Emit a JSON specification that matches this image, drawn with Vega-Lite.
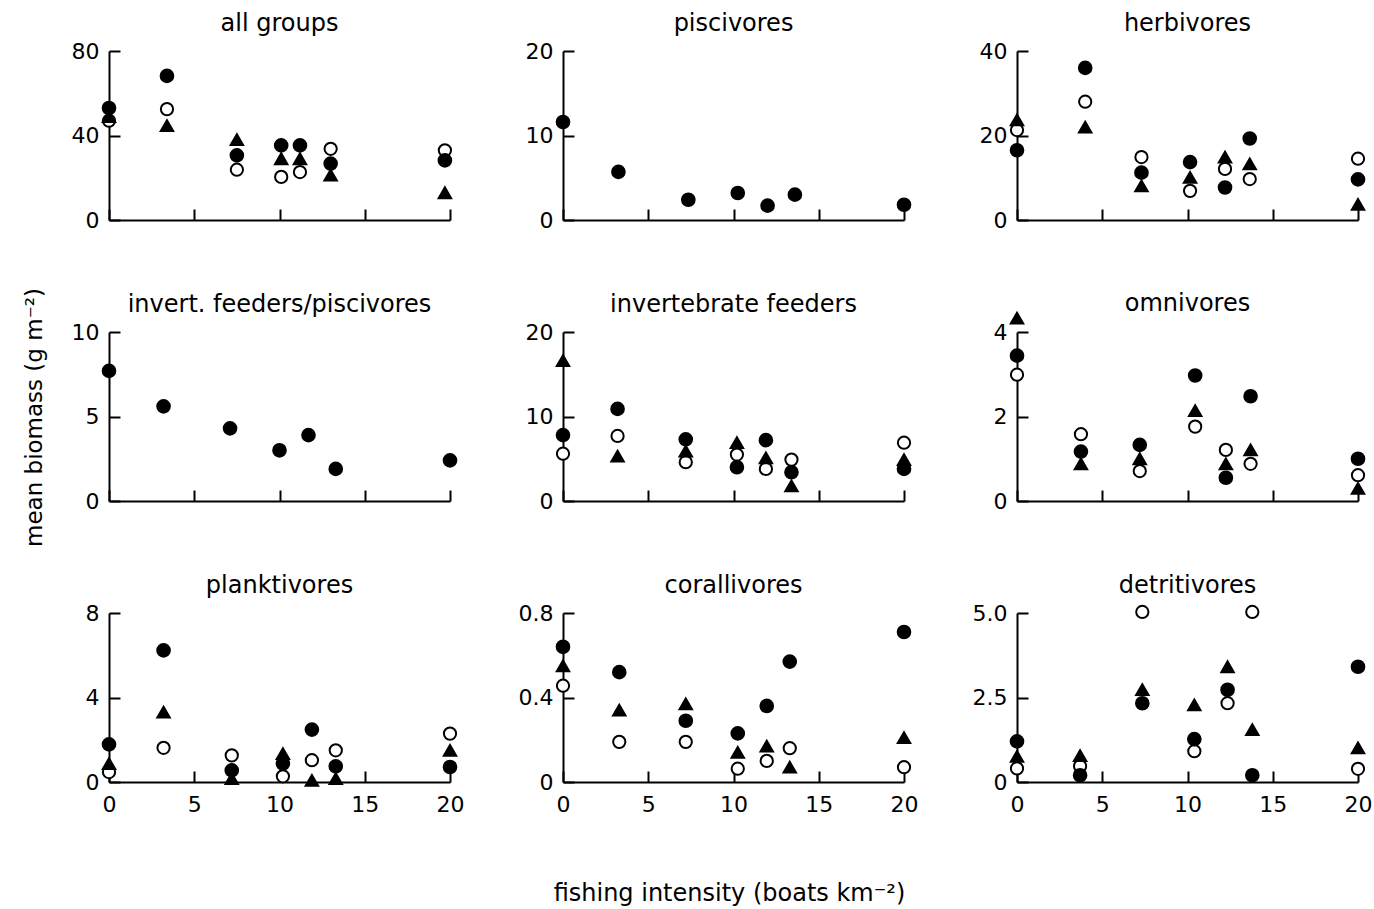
{
  "$schema": "https://vega.github.io/schema/vega-lite/v6.json",
  "background": "white",
  "padding": {"left": 22, "top": 12, "right": 0, "bottom": 5},
  "datasets": {
    "pts": [
      {"p":1,"s":"open","x":0,"y":47},{"p":1,"s":"open","x":3.4,"y":52.5},{"p":1,"s":"open","x":7.5,"y":23.8},{"p":1,"s":"open","x":10.1,"y":20.4},{"p":1,"s":"open","x":11.2,"y":22.7},{"p":1,"s":"open","x":13.0,"y":33.7},{"p":1,"s":"open","x":19.7,"y":33},
      {"p":1,"s":"tri","x":0,"y":49},{"p":1,"s":"tri","x":3.4,"y":44.7},{"p":1,"s":"tri","x":7.5,"y":38},{"p":1,"s":"tri","x":10.1,"y":29},{"p":1,"s":"tri","x":11.2,"y":29},{"p":1,"s":"tri","x":13.0,"y":21.2},{"p":1,"s":"tri","x":19.7,"y":12.9},
      {"p":1,"s":"filled","x":0,"y":53},{"p":1,"s":"filled","x":3.4,"y":68.2},{"p":1,"s":"filled","x":7.5,"y":30.6},{"p":1,"s":"filled","x":10.1,"y":35.3},{"p":1,"s":"filled","x":11.2,"y":35.3},{"p":1,"s":"filled","x":13.0,"y":26.7},{"p":1,"s":"filled","x":19.7,"y":28.2},
      {"p":2,"s":"filled","x":0,"y":11.6},{"p":2,"s":"filled","x":3.25,"y":5.7},{"p":2,"s":"filled","x":7.35,"y":2.4},{"p":2,"s":"filled","x":10.25,"y":3.2},{"p":2,"s":"filled","x":12.0,"y":1.7},{"p":2,"s":"filled","x":13.6,"y":3.0},{"p":2,"s":"filled","x":20,"y":1.8},
      {"p":3,"s":"open","x":0,"y":21.3},{"p":3,"s":"open","x":4.0,"y":28},{"p":3,"s":"open","x":7.3,"y":14.9},{"p":3,"s":"open","x":10.15,"y":6.9},{"p":3,"s":"open","x":12.2,"y":12.1},{"p":3,"s":"open","x":13.65,"y":9.7},{"p":3,"s":"open","x":20,"y":14.5},
      {"p":3,"s":"tri","x":0,"y":23.7},{"p":3,"s":"tri","x":4.0,"y":22},{"p":3,"s":"tri","x":7.3,"y":8.1},{"p":3,"s":"tri","x":10.15,"y":10.1},{"p":3,"s":"tri","x":12.2,"y":14.9},{"p":3,"s":"tri","x":13.65,"y":13.3},{"p":3,"s":"tri","x":20,"y":3.7},
      {"p":3,"s":"filled","x":0,"y":16.5},{"p":3,"s":"filled","x":4.0,"y":36},{"p":3,"s":"filled","x":7.3,"y":11.2},{"p":3,"s":"filled","x":10.15,"y":13.7},{"p":3,"s":"filled","x":12.2,"y":7.7},{"p":3,"s":"filled","x":13.65,"y":19.3},{"p":3,"s":"filled","x":20,"y":9.6},
      {"p":4,"s":"filled","x":0,"y":7.7},{"p":4,"s":"filled","x":3.2,"y":5.6},{"p":4,"s":"filled","x":7.1,"y":4.3},{"p":4,"s":"filled","x":10.0,"y":3.0},{"p":4,"s":"filled","x":11.7,"y":3.9},{"p":4,"s":"filled","x":13.3,"y":1.9},{"p":4,"s":"filled","x":20,"y":2.4},
      {"p":5,"s":"open","x":0,"y":5.6},{"p":5,"s":"open","x":3.2,"y":7.7},{"p":5,"s":"open","x":7.2,"y":4.6},{"p":5,"s":"open","x":10.2,"y":5.5},{"p":5,"s":"open","x":11.9,"y":3.8},{"p":5,"s":"open","x":13.4,"y":4.9},{"p":5,"s":"open","x":20,"y":6.9},
      {"p":5,"s":"tri","x":0,"y":16.6},{"p":5,"s":"tri","x":3.2,"y":5.3},{"p":5,"s":"tri","x":7.2,"y":5.9},{"p":5,"s":"tri","x":10.2,"y":6.9},{"p":5,"s":"tri","x":11.9,"y":5.1},{"p":5,"s":"tri","x":13.4,"y":1.8},{"p":5,"s":"tri","x":20,"y":4.9},
      {"p":5,"s":"filled","x":0,"y":7.8},{"p":5,"s":"filled","x":3.2,"y":10.9},{"p":5,"s":"filled","x":7.2,"y":7.3},{"p":5,"s":"filled","x":10.2,"y":4.0},{"p":5,"s":"filled","x":11.9,"y":7.2},{"p":5,"s":"filled","x":13.4,"y":3.4},{"p":5,"s":"filled","x":20,"y":3.8},
      {"p":6,"s":"open","x":0,"y":2.99},{"p":6,"s":"open","x":3.75,"y":1.58},{"p":6,"s":"open","x":7.2,"y":0.71},{"p":6,"s":"open","x":10.45,"y":1.76},{"p":6,"s":"open","x":12.25,"y":1.21},{"p":6,"s":"open","x":13.7,"y":0.88},{"p":6,"s":"open","x":20,"y":0.61},
      {"p":6,"s":"tri","x":0,"y":4.33},{"p":6,"s":"tri","x":3.75,"y":0.88},{"p":6,"s":"tri","x":7.2,"y":1.0},{"p":6,"s":"tri","x":10.45,"y":2.14},{"p":6,"s":"tri","x":12.25,"y":0.88},{"p":6,"s":"tri","x":13.7,"y":1.21},{"p":6,"s":"tri","x":20,"y":0.30},
      {"p":6,"s":"filled","x":0,"y":3.44},{"p":6,"s":"filled","x":3.75,"y":1.17},{"p":6,"s":"filled","x":7.2,"y":1.33},{"p":6,"s":"filled","x":10.45,"y":2.97},{"p":6,"s":"filled","x":12.25,"y":0.55},{"p":6,"s":"filled","x":13.7,"y":2.48},{"p":6,"s":"filled","x":20,"y":1.0},
      {"p":7,"s":"open","x":0,"y":0.47},{"p":7,"s":"open","x":3.2,"y":1.62},{"p":7,"s":"open","x":7.2,"y":1.26},{"p":7,"s":"open","x":10.2,"y":0.27},{"p":7,"s":"open","x":11.9,"y":1.03},{"p":7,"s":"open","x":13.3,"y":1.5},{"p":7,"s":"open","x":20,"y":2.29},
      {"p":7,"s":"tri","x":0,"y":0.87},{"p":7,"s":"tri","x":3.2,"y":3.31},{"p":7,"s":"tri","x":7.2,"y":0.16},{"p":7,"s":"tri","x":10.2,"y":1.34},{"p":7,"s":"tri","x":11.9,"y":0.08},{"p":7,"s":"tri","x":13.3,"y":0.16},{"p":7,"s":"tri","x":20,"y":1.5},
      {"p":7,"s":"filled","x":0,"y":1.78},{"p":7,"s":"filled","x":3.2,"y":6.23},{"p":7,"s":"filled","x":7.2,"y":0.55},{"p":7,"s":"filled","x":10.2,"y":0.87},{"p":7,"s":"filled","x":11.9,"y":2.48},{"p":7,"s":"filled","x":13.3,"y":0.74},{"p":7,"s":"filled","x":20,"y":0.71},
      {"p":8,"s":"open","x":0,"y":0.456},{"p":8,"s":"open","x":3.3,"y":0.19},{"p":8,"s":"open","x":7.2,"y":0.19},{"p":8,"s":"open","x":10.25,"y":0.063},{"p":8,"s":"open","x":11.95,"y":0.10},{"p":8,"s":"open","x":13.3,"y":0.16},{"p":8,"s":"open","x":20,"y":0.07},
      {"p":8,"s":"tri","x":0,"y":0.55},{"p":8,"s":"tri","x":3.3,"y":0.34},{"p":8,"s":"tri","x":7.2,"y":0.37},{"p":8,"s":"tri","x":10.25,"y":0.14},{"p":8,"s":"tri","x":11.95,"y":0.17},{"p":8,"s":"tri","x":13.3,"y":0.07},{"p":8,"s":"tri","x":20,"y":0.21},
      {"p":8,"s":"filled","x":0,"y":0.64},{"p":8,"s":"filled","x":3.3,"y":0.52},{"p":8,"s":"filled","x":7.2,"y":0.29},{"p":8,"s":"filled","x":10.25,"y":0.23},{"p":8,"s":"filled","x":11.95,"y":0.36},{"p":8,"s":"filled","x":13.3,"y":0.57},{"p":8,"s":"filled","x":20,"y":0.71},
      {"p":9,"s":"open","x":0,"y":0.4},{"p":9,"s":"open","x":3.7,"y":0.47},{"p":9,"s":"open","x":7.35,"y":5.03},{"p":9,"s":"open","x":10.4,"y":0.91},{"p":9,"s":"open","x":12.35,"y":2.33},{"p":9,"s":"open","x":13.8,"y":5.03},{"p":9,"s":"open","x":20,"y":0.39},
      {"p":9,"s":"tri","x":0,"y":0.76},{"p":9,"s":"tri","x":3.7,"y":0.78},{"p":9,"s":"tri","x":7.35,"y":2.73},{"p":9,"s":"tri","x":10.4,"y":2.28},{"p":9,"s":"tri","x":12.35,"y":3.41},{"p":9,"s":"tri","x":13.8,"y":1.55},{"p":9,"s":"tri","x":20,"y":1.01},
      {"p":9,"s":"filled","x":0,"y":1.2},{"p":9,"s":"filled","x":3.7,"y":0.2},{"p":9,"s":"filled","x":7.35,"y":2.33},{"p":9,"s":"filled","x":10.4,"y":1.27},{"p":9,"s":"filled","x":12.35,"y":2.73},{"p":9,"s":"filled","x":13.8,"y":0.2},{"p":9,"s":"filled","x":20,"y":3.41}
    ]
  },
  "data": {"name": "pts"},
  "columns": 3,
  "spacing": {"row": 112, "column": 113},
  "bounds": "flush",
  "resolve": {"scale": {"x": "independent", "y": "independent"}},
  "concat": [
    {"title": "all groups", "width": 341, "height": 169, "transform": [{"filter": "datum.p == 1"}],
     "mark": {"type": "point", "filled": true, "stroke": "black", "strokeWidth": 2, "opacity": 1},
     "encoding": {
       "x": {"field": "x", "type": "quantitative", "scale": {"domain": [0, 20], "nice": false}, "axis": {"values": [0, 5, 10, 15, 20], "labels": false, "title": null}},
       "y": {"field": "y", "type": "quantitative", "scale": {"domain": [0, 80], "nice": false}, "axis": {"values": [0, 40, 80], "title": null}},
       "shape": {"field": "s", "type": "nominal", "scale": {"domain": ["open", "tri", "filled"], "range": ["circle", "triangle-up", "circle"]}, "legend": null},
       "fill": {"field": "s", "type": "nominal", "scale": {"domain": ["open", "tri", "filled"], "range": ["white", "black", "black"]}, "legend": null},
       "size": {"field": "s", "type": "nominal", "scale": {"domain": ["open", "tri", "filled"], "range": [150, 160, 180]}, "legend": null}
     }},
    {"title": "piscivores", "width": 341, "height": 169, "transform": [{"filter": "datum.p == 2"}],
     "mark": {"type": "point", "filled": true, "stroke": "black", "strokeWidth": 2, "opacity": 1},
     "encoding": {
       "x": {"field": "x", "type": "quantitative", "scale": {"domain": [0, 20], "nice": false}, "axis": {"values": [0, 5, 10, 15, 20], "labels": false, "title": null}},
       "y": {"field": "y", "type": "quantitative", "scale": {"domain": [0, 20], "nice": false}, "axis": {"values": [0, 10, 20], "title": null}},
       "shape": {"field": "s", "type": "nominal", "scale": {"domain": ["open", "tri", "filled"], "range": ["circle", "triangle-up", "circle"]}, "legend": null},
       "fill": {"field": "s", "type": "nominal", "scale": {"domain": ["open", "tri", "filled"], "range": ["white", "black", "black"]}, "legend": null},
       "size": {"field": "s", "type": "nominal", "scale": {"domain": ["open", "tri", "filled"], "range": [150, 160, 180]}, "legend": null}
     }},
    {"title": "herbivores", "width": 341, "height": 169, "transform": [{"filter": "datum.p == 3"}],
     "mark": {"type": "point", "filled": true, "stroke": "black", "strokeWidth": 2, "opacity": 1},
     "encoding": {
       "x": {"field": "x", "type": "quantitative", "scale": {"domain": [0, 20], "nice": false}, "axis": {"values": [0, 5, 10, 15, 20], "labels": false, "title": null}},
       "y": {"field": "y", "type": "quantitative", "scale": {"domain": [0, 40], "nice": false}, "axis": {"values": [0, 20, 40], "title": null}},
       "shape": {"field": "s", "type": "nominal", "scale": {"domain": ["open", "tri", "filled"], "range": ["circle", "triangle-up", "circle"]}, "legend": null},
       "fill": {"field": "s", "type": "nominal", "scale": {"domain": ["open", "tri", "filled"], "range": ["white", "black", "black"]}, "legend": null},
       "size": {"field": "s", "type": "nominal", "scale": {"domain": ["open", "tri", "filled"], "range": [150, 160, 180]}, "legend": null}
     }},
    {"title": {"text": "invert. feeders/piscivores", "dy": 33}, "width": 341, "height": 169, "transform": [{"filter": "datum.p == 4"}],
     "mark": {"type": "point", "filled": true, "stroke": "black", "strokeWidth": 2, "opacity": 1},
     "encoding": {
       "x": {"field": "x", "type": "quantitative", "scale": {"domain": [0, 20], "nice": false}, "axis": {"values": [0, 5, 10, 15, 20], "labels": false, "title": null}},
       "y": {"field": "y", "type": "quantitative", "scale": {"domain": [0, 10], "nice": false}, "axis": {"values": [0, 5, 10], "title": "mean biomass (g m⁻²)", "titleFontSize": 23, "titleX": -75, "titleY": 85, "titleAngle": -90, "titleBaseline": "middle", "titleAlign": "center"}},
       "shape": {"field": "s", "type": "nominal", "scale": {"domain": ["open", "tri", "filled"], "range": ["circle", "triangle-up", "circle"]}, "legend": null},
       "fill": {"field": "s", "type": "nominal", "scale": {"domain": ["open", "tri", "filled"], "range": ["white", "black", "black"]}, "legend": null},
       "size": {"field": "s", "type": "nominal", "scale": {"domain": ["open", "tri", "filled"], "range": [150, 160, 180]}, "legend": null}
     }},
    {"title": "invertebrate feeders", "width": 341, "height": 169, "transform": [{"filter": "datum.p == 5"}],
     "mark": {"type": "point", "filled": true, "stroke": "black", "strokeWidth": 2, "opacity": 1},
     "encoding": {
       "x": {"field": "x", "type": "quantitative", "scale": {"domain": [0, 20], "nice": false}, "axis": {"values": [0, 5, 10, 15, 20], "labels": false, "title": null}},
       "y": {"field": "y", "type": "quantitative", "scale": {"domain": [0, 20], "nice": false}, "axis": {"values": [0, 10, 20], "title": null}},
       "shape": {"field": "s", "type": "nominal", "scale": {"domain": ["open", "tri", "filled"], "range": ["circle", "triangle-up", "circle"]}, "legend": null},
       "fill": {"field": "s", "type": "nominal", "scale": {"domain": ["open", "tri", "filled"], "range": ["white", "black", "black"]}, "legend": null},
       "size": {"field": "s", "type": "nominal", "scale": {"domain": ["open", "tri", "filled"], "range": [150, 160, 180]}, "legend": null}
     }},
    {"title": {"text": "omnivores", "dy": 11}, "width": 341, "height": 169, "transform": [{"filter": "datum.p == 6"}],
     "mark": {"type": "point", "filled": true, "stroke": "black", "strokeWidth": 2, "opacity": 1},
     "encoding": {
       "x": {"field": "x", "type": "quantitative", "scale": {"domain": [0, 20], "nice": false}, "axis": {"values": [0, 5, 10, 15, 20], "labels": false, "title": null}},
       "y": {"field": "y", "type": "quantitative", "scale": {"domain": [0, 4], "nice": false}, "axis": {"values": [0, 2, 4], "title": null}},
       "shape": {"field": "s", "type": "nominal", "scale": {"domain": ["open", "tri", "filled"], "range": ["circle", "triangle-up", "circle"]}, "legend": null},
       "fill": {"field": "s", "type": "nominal", "scale": {"domain": ["open", "tri", "filled"], "range": ["white", "black", "black"]}, "legend": null},
       "size": {"field": "s", "type": "nominal", "scale": {"domain": ["open", "tri", "filled"], "range": [150, 160, 180]}, "legend": null}
     }},
    {"title": "planktivores", "width": 341, "height": 169, "transform": [{"filter": "datum.p == 7"}],
     "mark": {"type": "point", "filled": true, "stroke": "black", "strokeWidth": 2, "opacity": 1},
     "encoding": {
       "x": {"field": "x", "type": "quantitative", "scale": {"domain": [0, 20], "nice": false}, "axis": {"values": [0, 5, 10, 15, 20], "title": null}},
       "y": {"field": "y", "type": "quantitative", "scale": {"domain": [0, 8], "nice": false}, "axis": {"values": [0, 4, 8], "title": null}},
       "shape": {"field": "s", "type": "nominal", "scale": {"domain": ["open", "tri", "filled"], "range": ["circle", "triangle-up", "circle"]}, "legend": null},
       "fill": {"field": "s", "type": "nominal", "scale": {"domain": ["open", "tri", "filled"], "range": ["white", "black", "black"]}, "legend": null},
       "size": {"field": "s", "type": "nominal", "scale": {"domain": ["open", "tri", "filled"], "range": [150, 160, 180]}, "legend": null}
     }},
    {"title": "corallivores", "width": 341, "height": 169, "transform": [{"filter": "datum.p == 8"}],
     "mark": {"type": "point", "filled": true, "stroke": "black", "strokeWidth": 2, "opacity": 1},
     "encoding": {
       "x": {"field": "x", "type": "quantitative", "scale": {"domain": [0, 20], "nice": false}, "axis": {"values": [0, 5, 10, 15, 20], "title": "fishing intensity (boats km⁻²)", "titleFontSize": 24, "titleX": 166, "titleY": 111, "titleBaseline": "middle", "titleAlign": "center"}},
       "y": {"field": "y", "type": "quantitative", "scale": {"domain": [0, 0.8], "nice": false}, "axis": {"values": [0, 0.4, 0.8], "labelExpr": "datum.value == 0 ? '0' : format(datum.value, '.1f')", "title": null}},
       "shape": {"field": "s", "type": "nominal", "scale": {"domain": ["open", "tri", "filled"], "range": ["circle", "triangle-up", "circle"]}, "legend": null},
       "fill": {"field": "s", "type": "nominal", "scale": {"domain": ["open", "tri", "filled"], "range": ["white", "black", "black"]}, "legend": null},
       "size": {"field": "s", "type": "nominal", "scale": {"domain": ["open", "tri", "filled"], "range": [150, 160, 180]}, "legend": null}
     }},
    {"title": "detritivores", "width": 341, "height": 169, "transform": [{"filter": "datum.p == 9"}],
     "mark": {"type": "point", "filled": true, "stroke": "black", "strokeWidth": 2, "opacity": 1},
     "encoding": {
       "x": {"field": "x", "type": "quantitative", "scale": {"domain": [0, 20], "nice": false}, "axis": {"values": [0, 5, 10, 15, 20], "title": null}},
       "y": {"field": "y", "type": "quantitative", "scale": {"domain": [0, 5], "nice": false}, "axis": {"values": [0, 2.5, 5], "labelExpr": "datum.value == 0 ? '0' : format(datum.value, '.1f')", "title": null}},
       "shape": {"field": "s", "type": "nominal", "scale": {"domain": ["open", "tri", "filled"], "range": ["circle", "triangle-up", "circle"]}, "legend": null},
       "fill": {"field": "s", "type": "nominal", "scale": {"domain": ["open", "tri", "filled"], "range": ["white", "black", "black"]}, "legend": null},
       "size": {"field": "s", "type": "nominal", "scale": {"domain": ["open", "tri", "filled"], "range": [150, 160, 180]}, "legend": null}
     }}
  ],
  "config": {
    "view": {"stroke": null},
    "font": "DejaVu Sans",
    "axis": {
      "domainColor": "black", "domainWidth": 2, "tickColor": "black", "tickWidth": 2, "tickSize": -11,
      "labelFontSize": 22, "labelColor": "black", "labelFont": "DejaVu Sans", "grid": false,
      "labelFlush": false, "labelOverlap": false,
      "titleFont": "DejaVu Sans", "titleFontSize": 23, "titleFontWeight": "normal", "titleColor": "black"
    },
    "axisX": {"labelPadding": 23},
    "axisY": {"labelPadding": 21},
    "title": {"fontSize": 24, "fontWeight": "normal", "color": "black", "font": "DejaVu Sans", "offset": 0, "anchor": "middle"}
  }
}
